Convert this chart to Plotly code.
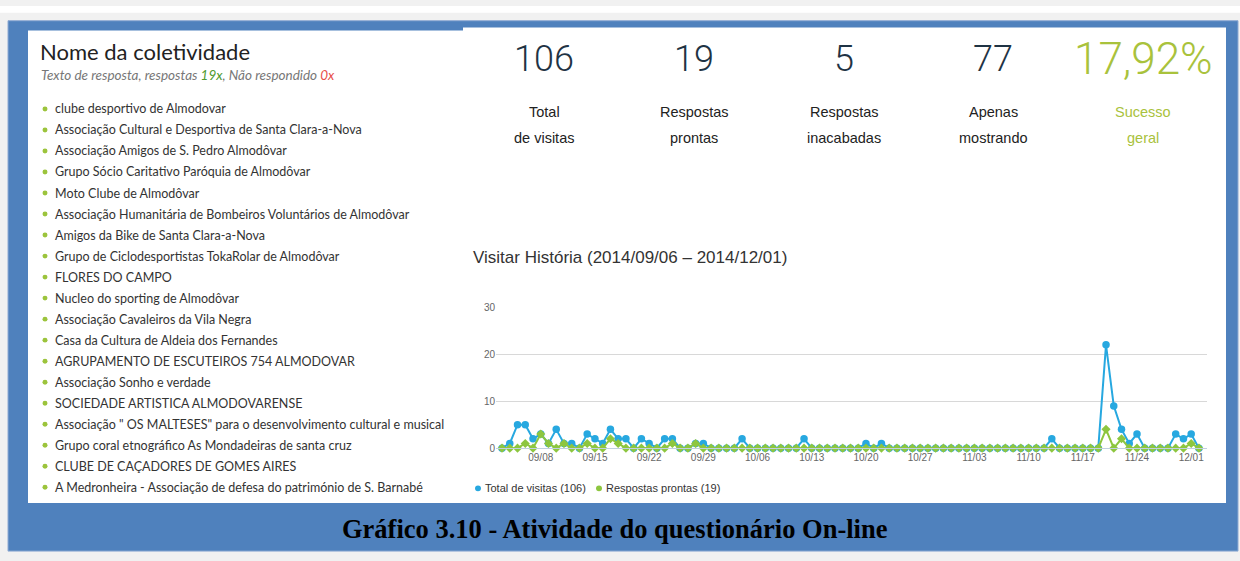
import datetime as dt
import plotly.graph_objects as go

# ---------------- data ----------------
start_date = dt.date(2014, 9, 3)
total_visitas = [0, 1, 5, 5, 2, 3, 1, 4, 1, 1, 0, 3, 2, 1, 4, 2, 2, 0, 2, 1,
                 0, 2, 2, 0, 0, 1, 1, 0, 0, 0, 0, 2, 0, 0, 0, 0, 0, 0, 0, 2,
                 0, 0, 0, 0, 0, 0, 0, 1, 0, 1, 0, 0, 0, 0, 0, 0, 0, 0, 0, 0,
                 0, 0, 0, 0, 0, 0, 0, 0, 0, 0, 0, 2, 0, 0, 0, 0, 0, 0, 22, 9,
                 4, 1, 3, 0, 0, 0, 0, 3, 2, 3, 0]
respostas_prontas = [0, 0, 0, 1, 0, 3, 1, 0, 1, 0, 0, 1, 0, 0, 2, 1, 0, 0, 0, 0,
                     0, 0, 1, 0, 0, 1, 0, 0, 0, 0, 0, 0, 0, 0, 0, 0, 0, 0, 0, 0,
                     0, 0, 0, 0, 0, 0, 0, 0, 0, 0, 0, 0, 0, 0, 0, 0, 0, 0, 0, 0,
                     0, 0, 0, 0, 0, 0, 0, 0, 0, 0, 0, 0, 0, 0, 0, 0, 0, 0, 4, 0,
                     2, 0, 0, 0, 0, 0, 0, 0, 0, 1, 0]
dates = [start_date + dt.timedelta(days=i) for i in range(len(total_visitas))]

series_names = ["Total de visitas (106)", "Respostas prontas (19)"]
y_ticks = [0, 10, 20, 30]

stat_values = ["106", "19", "5", "77", "17,92%"]
stat_line1 = ["Total", "Respostas", "Respostas", "Apenas", "Sucesso"]
stat_line2 = ["de visitas", "prontas", "inacabadas", "mostrando", "geral"]

list_title = "Nome da coletividade"
list_items = [
    "clube desportivo de Almodovar",
    "Associação Cultural e Desportiva de Santa Clara-a-Nova",
    "Associação Amigos de S. Pedro Almodôvar",
    "Grupo Sócio Caritativo Paróquia de Almodôvar",
    "Moto Clube de Almodôvar",
    "Associação Humanitária de Bombeiros Voluntários de Almodôvar",
    "Amigos da Bike de Santa Clara-a-Nova",
    "Grupo de Ciclodesportistas TokaRolar de Almodôvar",
    "FLORES DO CAMPO",
    "Nucleo do sporting de Almodôvar",
    "Associação Cavaleiros da Vila Negra",
    "Casa da Cultura de Aldeia dos Fernandes",
    "AGRUPAMENTO DE ESCUTEIROS 754 ALMODOVAR",
    "Associação Sonho e verdade",
    "SOCIEDADE ARTISTICA ALMODOVARENSE",
    "Associação \" OS MALTESES\" para o desenvolvimento cultural e musical",
    "Grupo coral etnográfico As Mondadeiras de santa cruz",
    "CLUBE DE CAÇADORES DE GOMES AIRES",
    "A Medronheira - Associação de defesa do património de S. Barnabé",
]
chart_title = "Visitar História (2014/09/06 – 2014/12/01)"
caption = "Gráfico 3.10 - Atividade do questionário On-line"

# ---------------- style ----------------
W, H = 1240, 561
BLUE = "#27a8e0"
GREEN = "#8dc63f"
SANS = "Liberation Sans, Arial, sans-serif"
LIGHT = "Roboto, Liberation Sans, sans-serif"
LIST_FONT = "Lato, Open Sans, sans-serif"


def px(x):
    return x / W


def py(y):
    return 1 - y / H


fig = go.Figure()
fig.add_trace(go.Scatter(
    x=dates, y=total_visitas, mode="lines+markers", name=series_names[0],
    line=dict(color=BLUE, width=2), marker=dict(color=BLUE, size=7.5, symbol="circle"),
    cliponaxis=False, showlegend=False))
fig.add_trace(go.Scatter(
    x=dates, y=respostas_prontas, mode="lines+markers", name=series_names[1],
    line=dict(color=GREEN, width=2), marker=dict(color=GREEN, size=7, symbol="diamond"),
    cliponaxis=False, showlegend=False))

shapes = [
    dict(type="rect", x0=px(0), x1=px(W), y0=py(0), y1=py(7), fillcolor="white", line_width=0),
    dict(type="rect", x0=px(8), x1=px(1238), y0=py(15), y1=py(556), fillcolor="#4f81bd",
         line=dict(color="#8eaad3", width=1)),
    dict(type="rect", x0=px(28), x1=px(463), y0=py(25), y1=py(507), fillcolor="white", line_width=0),
    dict(type="rect", x0=px(463), x1=px(1226), y0=py(22), y1=py(507), fillcolor="white", line_width=0),
]
for s in shapes:
    s.update(xref="paper", yref="paper", layer="below")

annotations = []


def text(x, y, t, size, color, family, xanchor="left", weight="normal"):
    annotations.append(dict(x=px(x), y=py(y), xref="paper", yref="paper", text=t,
                            showarrow=False, xanchor=xanchor, yanchor="middle",
                            font=dict(size=size, color=color, family=family, weight=weight)))


# Left list
text(38, 46, list_title, 22, "#222222", LIST_FONT)
text(39, 70, "<i>Texto de resposta, respostas <span style='color:#4f9a2e'>19x</span>, "
             "Não respondido <span style='color:#e8504a'>0x</span></i>", 13.5, "#777777", LIST_FONT)
for i, item in enumerate(list_items):
    yy = 105 + i * 21.44
    shapes.append(dict(type="circle", xref="paper", yref="paper",
                       x0=px(42.5), x1=px(47.5), y0=py(yy - 2.5), y1=py(yy + 2.5),
                       fillcolor="#9cc43c", line_width=0))
    text(53, yy, item, 12.5, "#333333", LIST_FONT)

# Stats
stat_x = [544, 694, 844, 993, 1143]
for i, (v, l1, l2) in enumerate(zip(stat_values, stat_line1, stat_line2)):
    big = i == 4
    col = "#a9c23c" if big else "#1f3344"
    text(stat_x[i], 54, v, 44 if big else 36, col, LIGHT, xanchor="center", weight=300)
    lc = "#a9c23c" if big else "#222222"
    text(stat_x[i], 108, l1, 14.5, lc, SANS, xanchor="center")
    text(stat_x[i], 135, l2, 14.5, lc, SANS, xanchor="center")

# Chart title
text(471, 257, chart_title, 17, "#333333", SANS)

# Legend (dot + label)
for cx, col, name in [(478, BLUE, series_names[0]), (599, GREEN, series_names[1])]:
    shapes.append(dict(type="circle", xref="paper", yref="paper",
                       x0=px(cx - 3), x1=px(cx + 3), y0=py(492 - 3), y1=py(492 + 3),
                       fillcolor=col, line_width=0))
    text(cx + 5, 492, name, 11, "#333333", SANS)

# Caption
text(615, 533, "<b>" + caption + "</b>", 26.5, "#000000", "Liberation Serif, Times New Roman, serif",
     xanchor="center")

x_start = dt.datetime(2014, 9, 2, 5, 20)
x_end = dt.datetime(2014, 12, 3, 1, 0)

fig.update_layout(
    width=W, height=H, autosize=False,
    margin=dict(l=0, r=0, t=0, b=0),
    paper_bgcolor="#f1f1f1", plot_bgcolor="white",
    shapes=shapes, annotations=annotations,
    showlegend=False,
    xaxis=dict(domain=[px(496), px(1207)], type="date", range=[x_start, x_end],
               tick0="2014-09-08", dtick=7 * 86400000, tickformat="%m/%d",
               showgrid=False, showline=True, linecolor="#c0d0e0", linewidth=1,
               ticks="", zeroline=False,
               tickfont=dict(family=SANS, size=10, color="#666666")),
    yaxis=dict(domain=[py(451), py(307.3)], range=[0, 30], tickvals=y_ticks,
               showgrid=True, gridcolor="#d8d8d8", gridwidth=1, zeroline=False,
               ticks="", tickfont=dict(family=SANS, size=10, color="#666666")),
)

fig.write_html(
    "out.html",
    config={"displayModeBar": False},
    post_script=("document.documentElement.style.margin='0';"
                 "document.body.style.margin='0';"
                 "document.body.style.overflow='hidden';"
                 "var gd=document.getElementById('{plot_id}');"
                 "Plotly.relayout(gd,{height:window.innerHeight,width:window.innerWidth});"),
)
